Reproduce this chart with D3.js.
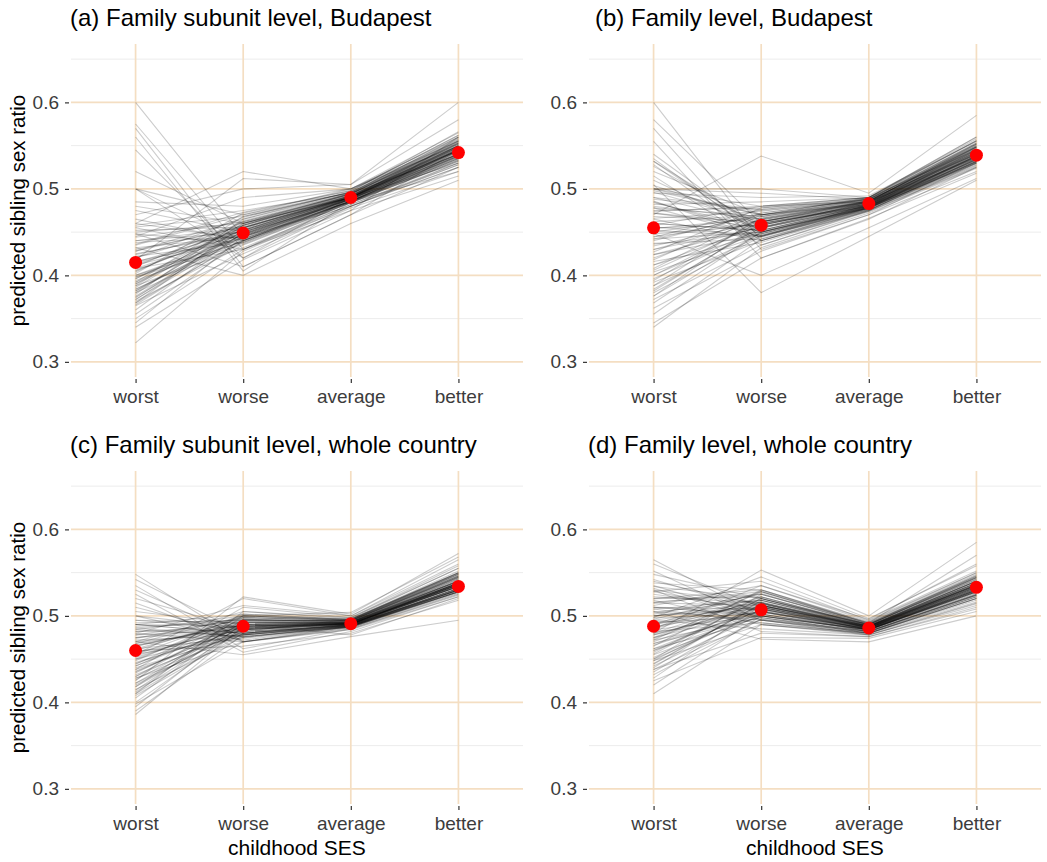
<!DOCTYPE html>
<html>
<head>
<meta charset="utf-8">
<script src="https://cdn.jsdelivr.net/npm/d3@7"></script>
<style>
  html, body { margin: 0; padding: 0; background: #ffffff; }
  svg { display: block; font-family: "Liberation Sans", Arial, Helvetica, sans-serif; }
</style>
</head>
<body>
<svg id="chart" width="1047" height="862"></svg>
<script>
// Childhood SES categories and y-axis ticks
const categories = ["worst", "worse", "average", "better"];
const majorTicks = [0.3, 0.4, 0.5, 0.6];
const minorTicks = [0.35, 0.45, 0.55, 0.65];

const panelTitles = [
  "(a) Family subunit level, Budapest",
  "(b) Family level, Budapest",
  "(c) Family subunit level, whole country",
  "(d) Family level, whole country"
];

// Point estimates (red dots), one per category
const estimateA = [0.415, 0.449, 0.490, 0.542];
const estimateB = [0.455, 0.458, 0.483, 0.539];
const estimateC = [0.460, 0.488, 0.491, 0.534];
const estimateD = [0.488, 0.507, 0.486, 0.533];

// Posterior draws: each row is one line across worst, worse, average, better
const drawsA = [
  [0.600,0.445,0.480,0.530],[0.575,0.430,0.475,0.560],[0.570,0.410,0.470,0.545],[0.560,0.405,0.485,0.520],
  [0.545,0.420,0.490,0.555],[0.520,0.460,0.495,0.540],[0.500,0.440,0.485,0.535],[0.500,0.470,0.500,0.550],
  [0.500,0.420,0.480,0.525],[0.485,0.480,0.500,0.560],[0.480,0.460,0.490,0.530],[0.475,0.450,0.485,0.545],
  [0.470,0.500,0.505,0.580],[0.465,0.440,0.490,0.540],[0.460,0.520,0.500,0.565],[0.458,0.475,0.495,0.550],
  [0.455,0.430,0.485,0.535],[0.450,0.460,0.490,0.545],[0.448,0.410,0.470,0.525],[0.445,0.490,0.500,0.555],
  [0.440,0.455,0.492,0.548],[0.438,0.445,0.488,0.540],[0.435,0.470,0.496,0.552],[0.432,0.400,0.460,0.510],
  [0.430,0.455,0.490,0.545],[0.428,0.465,0.495,0.560],[0.425,0.448,0.488,0.538],[0.422,0.438,0.485,0.532],
  [0.420,0.458,0.492,0.550],[0.418,0.512,0.505,0.600],[0.415,0.452,0.490,0.545],[0.412,0.442,0.486,0.536],
  [0.410,0.462,0.494,0.555],[0.408,0.430,0.482,0.528],[0.405,0.455,0.490,0.548],[0.402,0.472,0.498,0.562],
  [0.400,0.446,0.488,0.540],[0.398,0.436,0.484,0.533],[0.396,0.458,0.492,0.552],[0.394,0.440,0.486,0.538],
  [0.392,0.468,0.496,0.558],[0.390,0.450,0.490,0.545],[0.388,0.432,0.482,0.530],[0.386,0.460,0.494,0.556],
  [0.384,0.444,0.488,0.542],[0.382,0.455,0.491,0.548],[0.380,0.438,0.485,0.535],[0.378,0.465,0.497,0.566],
  [0.375,0.448,0.489,0.543],[0.372,0.452,0.492,0.550],[0.370,0.435,0.484,0.532],[0.368,0.458,0.494,0.553],
  [0.366,0.442,0.486,0.539],[0.365,0.425,0.478,0.520],[0.360,0.450,0.490,0.546],[0.355,0.440,0.486,0.537],
  [0.350,0.430,0.480,0.528],[0.345,0.445,0.488,0.544],[0.340,0.418,0.475,0.515],[0.322,0.428,0.480,0.525],
  [0.372,0.446,0.489,0.545],[0.376,0.452,0.491,0.549],[0.380,0.458,0.493,0.553],[0.384,0.441,0.486,0.537],
  [0.388,0.463,0.495,0.557],[0.392,0.447,0.489,0.544],[0.396,0.453,0.491,0.548],[0.400,0.439,0.485,0.534],
  [0.404,0.461,0.494,0.554],[0.408,0.449,0.490,0.546],[0.412,0.455,0.492,0.550],[0.416,0.443,0.487,0.540],
  [0.420,0.467,0.496,0.559],[0.424,0.451,0.490,0.545],[0.428,0.457,0.492,0.549],[0.432,0.445,0.488,0.541],
  [0.436,0.473,0.498,0.562],[0.440,0.450,0.490,0.546],[0.444,0.462,0.494,0.553],[0.448,0.437,0.484,0.533],
  [0.452,0.456,0.491,0.547],[0.456,0.468,0.496,0.556],[0.460,0.442,0.486,0.538],[0.368,0.440,0.486,0.539],
  [0.374,0.454,0.491,0.550],[0.382,0.448,0.489,0.543],[0.390,0.460,0.493,0.552],[0.398,0.444,0.487,0.541],
  [0.406,0.452,0.491,0.547],[0.414,0.447,0.489,0.544]
];

const drawsB = [
  [0.600,0.440,0.475,0.535],[0.580,0.460,0.480,0.545],[0.570,0.430,0.470,0.530],[0.555,0.420,0.465,0.525],
  [0.540,0.450,0.478,0.540],[0.535,0.445,0.482,0.548],[0.532,0.455,0.485,0.552],[0.528,0.440,0.478,0.538],
  [0.520,0.470,0.490,0.560],[0.515,0.435,0.475,0.532],[0.505,0.380,0.445,0.510],[0.500,0.500,0.490,0.545],
  [0.500,0.495,0.488,0.540],[0.500,0.480,0.485,0.536],[0.498,0.470,0.482,0.542],[0.495,0.490,0.492,0.555],
  [0.490,0.460,0.480,0.534],[0.488,0.475,0.486,0.548],[0.485,0.450,0.478,0.530],[0.482,0.485,0.490,0.556],
  [0.480,0.465,0.484,0.545],[0.478,0.445,0.476,0.528],[0.475,0.478,0.488,0.550],[0.472,0.455,0.480,0.538],
  [0.470,0.538,0.495,0.585],[0.468,0.462,0.483,0.542],[0.465,0.440,0.474,0.526],[0.462,0.470,0.486,0.551],
  [0.460,0.452,0.480,0.537],[0.458,0.480,0.490,0.558],[0.455,0.458,0.482,0.541],[0.452,0.445,0.477,0.531],
  [0.450,0.468,0.486,0.549],[0.448,0.400,0.455,0.512],[0.445,0.460,0.483,0.544],[0.442,0.450,0.479,0.535],
  [0.440,0.472,0.488,0.553],[0.437,0.442,0.476,0.529],[0.434,0.462,0.484,0.546],[0.430,0.455,0.481,0.539],
  [0.427,0.478,0.490,0.560],[0.424,0.448,0.479,0.533],[0.420,0.465,0.486,0.548],[0.416,0.438,0.475,0.527],
  [0.412,0.458,0.483,0.543],[0.408,0.470,0.489,0.556],[0.404,0.446,0.478,0.532],[0.400,0.462,0.485,0.547],
  [0.396,0.452,0.481,0.538],[0.392,0.440,0.476,0.530],[0.388,0.468,0.488,0.552],[0.384,0.456,0.482,0.541],
  [0.380,0.445,0.478,0.534],[0.376,0.462,0.486,0.549],[0.372,0.435,0.474,0.525],[0.368,0.450,0.480,0.537],
  [0.362,0.428,0.470,0.520],[0.355,0.442,0.477,0.531],[0.345,0.420,0.466,0.518],[0.340,0.432,0.472,0.524],
  [0.500,0.470,0.484,0.540],[0.496,0.462,0.481,0.536],[0.490,0.476,0.487,0.546],[0.484,0.455,0.480,0.534],
  [0.478,0.468,0.485,0.543],[0.472,0.460,0.482,0.538],[0.466,0.474,0.488,0.549],[0.460,0.452,0.479,0.532],
  [0.454,0.466,0.485,0.544],[0.448,0.458,0.482,0.539],[0.442,0.470,0.487,0.550],[0.436,0.450,0.479,0.533],
  [0.430,0.464,0.485,0.545],[0.424,0.456,0.482,0.540],[0.418,0.472,0.488,0.552],[0.412,0.448,0.478,0.531],
  [0.406,0.462,0.484,0.543],[0.400,0.454,0.481,0.537],[0.394,0.466,0.486,0.548],[0.388,0.446,0.478,0.532],
  [0.382,0.458,0.483,0.541],[0.376,0.450,0.480,0.535],[0.532,0.448,0.480,0.536],[0.526,0.458,0.483,0.542],
  [0.510,0.452,0.481,0.538],[0.504,0.464,0.485,0.546],[0.486,0.444,0.478,0.530],[0.474,0.480,0.490,0.555],
  [0.456,0.446,0.479,0.534],[0.444,0.476,0.489,0.553]
];

const drawsC = [
  [0.548,0.470,0.488,0.530],[0.542,0.480,0.490,0.538],[0.535,0.462,0.485,0.525],[0.530,0.475,0.489,0.535],
  [0.525,0.458,0.482,0.522],[0.520,0.485,0.492,0.540],[0.515,0.470,0.487,0.530],[0.510,0.478,0.490,0.536],
  [0.505,0.490,0.493,0.545],[0.500,0.472,0.488,0.532],[0.495,0.485,0.491,0.538],[0.492,0.495,0.494,0.548],
  [0.490,0.488,0.492,0.534],[0.490,0.480,0.490,0.530],[0.488,0.492,0.493,0.542],[0.486,0.476,0.488,0.528],
  [0.484,0.500,0.495,0.550],[0.482,0.484,0.491,0.536],[0.480,0.470,0.486,0.526],[0.478,0.495,0.494,0.545],
  [0.475,0.488,0.492,0.538],[0.472,0.478,0.489,0.530],[0.470,0.505,0.498,0.555],[0.468,0.486,0.491,0.534],
  [0.465,0.492,0.493,0.540],[0.462,0.475,0.488,0.528],[0.460,0.498,0.495,0.548],[0.458,0.484,0.491,0.535],
  [0.455,0.520,0.500,0.565],[0.452,0.490,0.492,0.538],[0.450,0.480,0.489,0.530],[0.448,0.502,0.496,0.552],
  [0.445,0.487,0.491,0.536],[0.442,0.495,0.494,0.544],[0.440,0.478,0.488,0.528],[0.438,0.510,0.498,0.558],
  [0.435,0.489,0.492,0.537],[0.432,0.482,0.489,0.532],[0.430,0.498,0.495,0.546],[0.428,0.470,0.485,0.524],
  [0.425,0.522,0.502,0.572],[0.422,0.493,0.493,0.540],[0.420,0.485,0.490,0.534],[0.418,0.500,0.496,0.550],
  [0.415,0.476,0.487,0.528],[0.412,0.490,0.492,0.538],[0.410,0.505,0.497,0.555],[0.408,0.480,0.488,0.530],
  [0.405,0.495,0.494,0.544],[0.400,0.486,0.490,0.534],[0.398,0.470,0.484,0.522],[0.395,0.492,0.492,0.540],
  [0.390,0.478,0.487,0.528],[0.386,0.488,0.490,0.536],[0.470,0.455,0.476,0.495],[0.460,0.465,0.480,0.518],
  [0.480,0.512,0.500,0.560],[0.455,0.500,0.504,0.568],[0.465,0.490,0.478,0.520],[0.475,0.482,0.496,0.548],
  [0.500,0.486,0.491,0.536],[0.495,0.492,0.493,0.541],[0.490,0.480,0.489,0.531],[0.486,0.496,0.494,0.545],
  [0.482,0.488,0.491,0.537],[0.478,0.484,0.490,0.534],[0.474,0.498,0.495,0.547],[0.470,0.482,0.489,0.532],
  [0.466,0.490,0.492,0.539],[0.462,0.494,0.493,0.543],[0.458,0.478,0.488,0.529],[0.454,0.488,0.491,0.537],
  [0.450,0.496,0.494,0.546],[0.446,0.484,0.490,0.534],[0.442,0.490,0.492,0.540],[0.438,0.480,0.489,0.531],
  [0.434,0.494,0.493,0.543],[0.430,0.486,0.491,0.536],[0.426,0.492,0.493,0.541],[0.422,0.482,0.489,0.532],
  [0.418,0.488,0.491,0.538],[0.414,0.496,0.494,0.546],[0.410,0.484,0.490,0.534],[0.490,0.502,0.496,0.550],
  [0.484,0.476,0.487,0.527],[0.468,0.500,0.495,0.549],[0.456,0.474,0.487,0.528],[0.444,0.500,0.496,0.550],
  [0.436,0.488,0.491,0.537],[0.428,0.479,0.488,0.530]
];

const drawsD = [
  [0.565,0.500,0.480,0.520],[0.560,0.510,0.484,0.528],[0.552,0.495,0.478,0.515],[0.548,0.520,0.488,0.535],
  [0.542,0.505,0.482,0.525],[0.538,0.530,0.492,0.545],[0.535,0.498,0.480,0.518],[0.530,0.515,0.486,0.532],
  [0.528,0.540,0.495,0.552],[0.525,0.508,0.484,0.528],[0.520,0.522,0.489,0.538],[0.518,0.490,0.478,0.512],
  [0.515,0.512,0.486,0.533],[0.512,0.535,0.494,0.550],[0.510,0.502,0.482,0.524],[0.508,0.518,0.488,0.536],
  [0.505,0.495,0.480,0.520],[0.502,0.525,0.490,0.542],[0.500,0.508,0.485,0.530],[0.498,0.545,0.497,0.558],
  [0.495,0.512,0.487,0.534],[0.492,0.500,0.483,0.526],[0.490,0.528,0.491,0.546],[0.488,0.505,0.485,0.531],
  [0.485,0.518,0.489,0.540],[0.482,0.492,0.480,0.520],[0.480,0.553,0.500,0.585],[0.478,0.510,0.486,0.533],
  [0.475,0.522,0.490,0.544],[0.472,0.498,0.482,0.524],[0.470,0.515,0.488,0.538],[0.468,0.505,0.485,0.530],
  [0.465,0.530,0.493,0.550],[0.462,0.495,0.481,0.522],[0.460,0.512,0.487,0.536],[0.458,0.520,0.490,0.545],
  [0.455,0.500,0.484,0.528],[0.452,0.508,0.486,0.534],[0.450,0.525,0.492,0.548],[0.448,0.490,0.479,0.516],
  [0.445,0.514,0.488,0.540],[0.442,0.502,0.484,0.529],[0.440,0.518,0.490,0.544],[0.438,0.480,0.476,0.510],
  [0.435,0.508,0.486,0.535],[0.432,0.496,0.482,0.524],[0.428,0.512,0.488,0.540],[0.425,0.475,0.474,0.505],
  [0.420,0.500,0.484,0.530],[0.410,0.490,0.480,0.522],[0.505,0.473,0.470,0.500],[0.495,0.485,0.478,0.514],
  [0.515,0.528,0.492,0.570],[0.485,0.535,0.496,0.560],[0.530,0.482,0.476,0.508],[0.475,0.505,0.485,0.532],
  [0.500,0.515,0.488,0.538],[0.490,0.510,0.487,0.536],[0.510,0.500,0.484,0.530],[0.480,0.520,0.490,0.542],
  [0.540,0.512,0.486,0.532],[0.534,0.520,0.489,0.540],[0.528,0.505,0.484,0.528],[0.522,0.515,0.487,0.535],
  [0.516,0.525,0.490,0.543],[0.510,0.508,0.485,0.531],[0.504,0.518,0.488,0.538],[0.498,0.502,0.483,0.527],
  [0.492,0.514,0.487,0.535],[0.486,0.522,0.489,0.541],[0.480,0.506,0.485,0.530],[0.474,0.516,0.488,0.537],
  [0.468,0.498,0.482,0.525],[0.462,0.510,0.486,0.533],[0.456,0.520,0.489,0.540],[0.450,0.504,0.484,0.529],
  [0.444,0.514,0.487,0.536],[0.438,0.496,0.482,0.524],[0.532,0.495,0.481,0.522],[0.520,0.530,0.491,0.546],
  [0.508,0.492,0.480,0.520],[0.496,0.526,0.490,0.544],[0.484,0.500,0.484,0.528],[0.472,0.528,0.491,0.547],
  [0.460,0.502,0.484,0.529],[0.448,0.512,0.487,0.535],[0.500,0.510,0.486,0.533],[0.490,0.516,0.488,0.537],
  [0.478,0.512,0.487,0.534],[0.466,0.506,0.485,0.531]
];

const panels = [
  { title: panelTitles[0], draws: drawsA, est: estimateA, x0: 71,  y0: 44,  titleX: 70,  yTitle: true,  xTitle: false },
  { title: panelTitles[1], draws: drawsB, est: estimateB, x0: 589, y0: 44,  titleX: 595, yTitle: false, xTitle: false },
  { title: panelTitles[2], draws: drawsC, est: estimateC, x0: 71,  y0: 471, titleX: 70,  yTitle: true,  xTitle: true },
  { title: panelTitles[3], draws: drawsD, est: estimateD, x0: 589, y0: 471, titleX: 588, yTitle: false, xTitle: true }
];

const W = 452, H = 333;
const majorColor = "#f4dec2";
const minorColor = "#ececec";
const tickTextColor = "#3c3c3c";
const svg = d3.select("#chart");

panels.forEach(p => {
  const g = svg.append("g");
  const x = d3.scalePoint().domain(categories).range([p.x0, p.x0 + W]).padding(0.6);
  const y = d3.scaleLinear().domain([0.2825, 0.6675]).range([p.y0 + H, p.y0]);

  // minor horizontal grid
  g.selectAll(".minor").data(minorTicks).enter().append("line")
    .attr("x1", p.x0).attr("x2", p.x0 + W)
    .attr("y1", d => y(d)).attr("y2", d => y(d))
    .attr("stroke", minorColor).attr("stroke-width", 1);

  // major horizontal grid
  g.selectAll(".majorH").data(majorTicks).enter().append("line")
    .attr("x1", p.x0).attr("x2", p.x0 + W)
    .attr("y1", d => y(d)).attr("y2", d => y(d))
    .attr("stroke", majorColor).attr("stroke-width", 1.7);

  // vertical grid at categories
  g.selectAll(".majorV").data(categories).enter().append("line")
    .attr("x1", d => x(d)).attr("x2", d => x(d))
    .attr("y1", p.y0).attr("y2", p.y0 + H)
    .attr("stroke", majorColor).attr("stroke-width", 1.7);

  // y axis
  const yAxis = d3.axisLeft(y).tickValues(majorTicks).tickFormat(d3.format(".1f")).tickSize(4).tickPadding(6);
  const ya = g.append("g").attr("transform", `translate(${p.x0 - 2},0)`).call(yAxis);
  ya.select(".domain").remove();
  ya.selectAll(".tick line").attr("stroke", "#333333").attr("stroke-width", 1.2);
  ya.selectAll(".tick text").attr("fill", tickTextColor).style("font-size", "19px")
    .style("font-family", "'Liberation Sans', Arial, sans-serif");

  // x axis
  const xAxis = d3.axisBottom(x).tickSize(4).tickPadding(6.5);
  const xa = g.append("g").attr("transform", `translate(0,${p.y0 + H + 2})`).call(xAxis);
  xa.select(".domain").remove();
  xa.selectAll(".tick line").attr("stroke", "#333333").attr("stroke-width", 1.2);
  xa.selectAll(".tick text").attr("fill", tickTextColor).style("font-size", "19px")
    .style("font-family", "'Liberation Sans', Arial, sans-serif");

  // draw lines
  const line = d3.line().x((d, i) => x(categories[i])).y(d => y(d));
  g.append("g").selectAll("path").data(p.draws).enter().append("path")
    .attr("d", line)
    .attr("fill", "none")
    .attr("stroke", "#000000")
    .attr("stroke-opacity", 0.2)
    .attr("stroke-width", 1.1);

  // point estimates
  g.append("g").selectAll("circle").data(p.est).enter().append("circle")
    .attr("cx", (d, i) => x(categories[i]))
    .attr("cy", d => y(d))
    .attr("r", 6.5)
    .attr("fill", "#ff0000");

  // panel title
  g.append("text")
    .attr("x", p.titleX).attr("y", p.y0 - 18)
    .attr("fill", "#000000")
    .style("font-size", "24px")
    .text(p.title);

  if (p.yTitle) {
    g.append("text")
      .attr("transform", `translate(25,${p.y0 + H / 2}) rotate(-90)`)
      .attr("text-anchor", "middle")
      .attr("fill", "#000000")
      .style("font-size", "20.5px")
      .text("predicted sibling sex ratio");
  }
  if (p.xTitle) {
    g.append("text")
      .attr("x", p.x0 + W / 2).attr("y", p.y0 + H + 51)
      .attr("text-anchor", "middle")
      .attr("fill", "#000000")
      .style("font-size", "21px")
      .text("childhood SES");
  }
});
</script>
</body>
</html>
